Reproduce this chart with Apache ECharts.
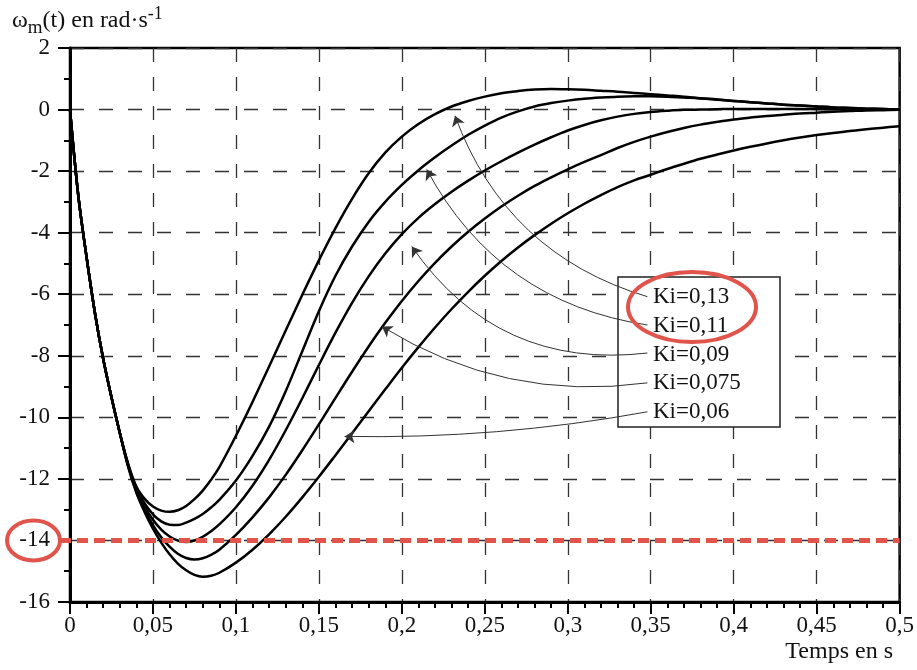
<!DOCTYPE html>
<html>
<head>
<meta charset="utf-8">
<script src="https://cdn.jsdelivr.net/npm/echarts@6/dist/echarts.min.js"></script>
<style>
html, body { margin: 0; padding: 0; background: #fff; }
#chart { width: 917px; height: 670px; }
</style>
</head>
<body>
<div id="chart"></div>
<script>
// temps (s)
var t = [0, 0.005, 0.01, 0.015, 0.02, 0.025, 0.03, 0.035,
    0.04, 0.045, 0.05, 0.055, 0.06, 0.065, 0.07, 0.075, 0.08, 0.085, 0.09,
    0.1, 0.11, 0.12, 0.13, 0.14, 0.15, 0.16, 0.17, 0.18, 0.19, 0.2,
    0.21, 0.22, 0.23, 0.24, 0.25, 0.26, 0.27, 0.28, 0.29, 0.3,
    0.31, 0.32, 0.33, 0.34, 0.35, 0.36, 0.37, 0.38, 0.39, 0.4,
    0.41, 0.42, 0.43, 0.44, 0.45, 0.46, 0.47, 0.48, 0.49, 0.5];

// omega_m(t) pour chaque Ki
var w013 = [0, -2.8, -4.8, -6.6, -8.1, -9.35, -10.5, -11.5,
    -12.25, -12.65, -12.9, -13.03, -13.07, -13.02, -12.88, -12.66, -12.38, -12.03, -11.62,
    -10.6, -9.5, -8.35, -7.18, -6.02, -4.9, -3.85, -2.9, -2.07, -1.4, -0.88,
    -0.47, -0.15, 0.1, 0.28, 0.42, 0.53, 0.6, 0.65, 0.67, 0.66,
    0.64, 0.61, 0.58, 0.54, 0.5, 0.46, 0.42, 0.37, 0.33, 0.28,
    0.24, 0.2, 0.16, 0.13, 0.1, 0.07, 0.05, 0.03, 0.015, 0];
var w011 = [0, -2.8, -4.8, -6.6, -8.1, -9.35, -10.5, -11.52,
    -12.3, -12.8, -13.15, -13.38, -13.49, -13.5, -13.42, -13.3, -13.14, -12.93, -12.68,
    -12.05, -11.25, -10.3, -9.15, -7.85, -6.55, -5.4, -4.45, -3.65, -3.0, -2.45,
    -1.97, -1.55, -1.17, -0.82, -0.52, -0.26, -0.06, 0.1, 0.21, 0.29,
    0.35, 0.39, 0.42, 0.43, 0.43, 0.42, 0.39, 0.36, 0.32, 0.28,
    0.24, 0.2, 0.16, 0.13, 0.1, 0.07, 0.05, 0.03, 0.015, 0];
var w009 = [0, -2.8, -4.8, -6.6, -8.1, -9.35, -10.5, -11.55,
    -12.35, -12.9, -13.33, -13.65, -13.87, -14.0, -14.05, -14.0, -13.88, -13.7, -13.48,
    -12.92, -12.22, -11.38, -10.42, -9.38, -8.3, -7.25, -6.28, -5.42, -4.68, -4.05,
    -3.52, -3.07, -2.67, -2.31, -1.98, -1.68, -1.4, -1.14, -0.9, -0.68,
    -0.5, -0.35, -0.23, -0.14, -0.08, -0.04, -0.01, 0, 0.01, 0.02,
    0.02, 0.02, 0.02, 0.02, 0.01, 0.01, 0.01, 0.01, 0, 0];
var w0075 = [0, -2.8, -4.8, -6.6, -8.1, -9.35, -10.5, -11.57,
    -12.4, -13.0, -13.5, -13.9, -14.2, -14.43, -14.57, -14.62, -14.58, -14.47, -14.3,
    -13.82, -13.25, -12.6, -11.87, -11.07, -10.23, -9.37, -8.52, -7.7, -6.93, -6.22,
    -5.57, -4.98, -4.45, -3.97, -3.54, -3.15, -2.8, -2.48, -2.2, -1.94,
    -1.7, -1.48, -1.25, -1.05, -0.88, -0.73, -0.6, -0.49, -0.4, -0.32,
    -0.26, -0.21, -0.17, -0.13, -0.1, -0.07, -0.05, -0.03, -0.02, -0.01];
var w006 = [0, -2.8, -4.8, -6.6, -8.1, -9.35, -10.5, -11.6,
    -12.45, -13.08, -13.62, -14.07, -14.45, -14.75, -14.97, -15.12, -15.18, -15.15, -15.05,
    -14.72, -14.3, -13.8, -13.23, -12.6, -11.93, -11.23, -10.52, -9.8, -9.09, -8.39,
    -7.72, -7.08, -6.48, -5.92, -5.4, -4.92, -4.48, -4.08, -3.71, -3.37,
    -3.06, -2.78, -2.52, -2.3, -2.12, -1.93, -1.76, -1.6, -1.46, -1.33,
    -1.21, -1.1, -1.0, -0.91, -0.83, -0.76, -0.7, -0.64, -0.59, -0.54];

var names = ['Ki=0,13', 'Ki=0,11', 'Ki=0,09', 'Ki=0,075', 'Ki=0,06'];
var curves = [w013, w011, w009, w0075, w006];

var xTickLabels = ['0', '0,05', '0,1', '0,15', '0,2', '0,25', '0,3', '0,35', '0,4', '0,45', '0,5'];
var yTicks = [2, 0, -2, -4, -6, -8, -10, -12, -14, -16];

// fleches : depart (etiquette) -> pointe (courbe), en coordonnees du graphe
var arrowFrom = [[0.348, -6.08], [0.348, -7.0], [0.348, -7.91], [0.348, -8.88], [0.348, -9.82]];
var arrowTo = [[0.232, -0.2], [0.215, -1.95], [0.206, -4.45], [0.188, -7.05], [0.1655, -10.62]];
var arrowBend = [0.25, 0.25, 0.3, 0.18, 0.05];

var refLevel = -14;

var serif = 'Liberation Serif';
var ink = '#111';
var red = '#e0544b';

var myChart = echarts.init(document.getElementById('chart'));

var series = curves.map(function (vals, k) {
    return {
        name: names[k],
        type: 'line',
        data: t.map(function (x, i) { return [x, vals[i]]; }),
        showSymbol: false,
        smooth: 0.35,
        lineStyle: { color: '#000', width: 2.5 },
        z: 3
    };
});

series.push({
    type: 'lines',
    coordinateSystem: 'cartesian2d',
    symbol: ['none', 'arrow'],
    symbolSize: [0, 10],
    lineStyle: { color: '#333', width: 1, opacity: 1 },
    data: arrowFrom.map(function (p, i) {
        return { coords: [p, arrowTo[i]], lineStyle: { curveness: arrowBend[i] } };
    }),
    z: 4
});

var option = {
    animation: false,
    backgroundColor: '#fff',
    grid: {
        left: 70, right: 16, top: 48, bottom: 68,
        show: true, borderColor: '#000', borderWidth: 2.5
    },
    xAxis: {
        type: 'value',
        min: 0, max: 0.5, interval: 0.05,
        axisLine: { onZero: false, lineStyle: { color: '#000', width: 3 } },
        axisTick: { length: 12, lineStyle: { color: '#000', width: 2 } },
        minorTick: { show: true, splitNumber: 5, length: 6, lineStyle: { color: '#000', width: 2 } },
        splitLine: { show: true, lineStyle: { color: '#333', width: 1.3, type: [14, 15] } },
        axisLabel: {
            margin: 12, color: ink, fontFamily: serif, fontSize: 23,
            formatter: function (v) { return xTickLabels[Math.round(v / 0.05)]; }
        }
    },
    yAxis: {
        type: 'value',
        min: -16, max: 2, interval: 2,
        axisLine: { onZero: false, lineStyle: { color: '#000', width: 3 } },
        axisTick: { length: 12, lineStyle: { color: '#000', width: 2 } },
        minorTick: { show: true, splitNumber: 2, length: 6, lineStyle: { color: '#000', width: 2 } },
        splitLine: { show: true, lineStyle: { color: '#333', width: 1.3, type: [14, 15] } },
        axisLabel: {
            margin: 20, color: ink, fontFamily: serif, fontSize: 23,
            formatter: function (v) { return yTicks.indexOf(v) >= 0 ? String(v) : ''; }
        }
    },
    series: series
};
myChart.setOption(option);

// annotations
var y14 = myChart.convertToPixel({ yAxisIndex: 0 }, refLevel);
var xEnd = myChart.convertToPixel({ xAxisIndex: 0 }, 0.5);
var labelTop = 297;
var labelStep = 28.8;

var graphics = [
    {
        type: 'rect', z: 1,
        shape: { x: 618, y: 277, width: 162, height: 150 },
        style: { fill: '#fff', stroke: '#222', lineWidth: 1.5 }
    },
    {
        type: 'text', z: 5, x: 12, y: 5,
        style: {
            text: '{a|ω}{b|m}{a|(t) en rad·s}{c|-1}',
            font: '24px ' + serif,
            fill: ink,
            rich: {
                a: { fontFamily: serif, fontSize: 24, lineHeight: 28, verticalAlign: 'bottom', color: ink },
                b: { fontFamily: serif, fontSize: 19, lineHeight: 19, verticalAlign: 'bottom', color: ink, padding: [0, 0, -5, 0] },
                c: { fontFamily: serif, fontSize: 18, lineHeight: 18, verticalAlign: 'top', color: ink }
            }
        }
    },
    {
        type: 'text', z: 5, x: 893, y: 652,
        style: { text: 'Temps en s', font: '24px ' + serif, fill: ink, textAlign: 'right', textVerticalAlign: 'middle', align: 'right', verticalAlign: 'middle' }
    },
    {
        type: 'line', z: 10,
        shape: { x1: 60, y1: y14, x2: xEnd, y2: y14 },
        style: { stroke: red, lineWidth: 5, lineDash: [11, 6] }
    },
    {
        type: 'ellipse', z: 10,
        shape: { cx: 33.5, cy: y14, rx: 26.5, ry: 20 },
        style: { fill: 'none', stroke: red, lineWidth: 4 }
    },
    {
        type: 'ellipse', z: 10,
        shape: { cx: 692, cy: 307, rx: 64, ry: 35 },
        style: { fill: 'none', stroke: red, lineWidth: 4 }
    }
];
names.forEach(function (n, i) {
    graphics.push({
        type: 'text', z: 5, x: 653, y: labelTop + i * labelStep,
        style: { text: n, font: '23px ' + serif, fill: ink, textVerticalAlign: 'middle', verticalAlign: 'middle' }
    });
});
myChart.setOption({ graphic: graphics });
</script>
</body>
</html>
